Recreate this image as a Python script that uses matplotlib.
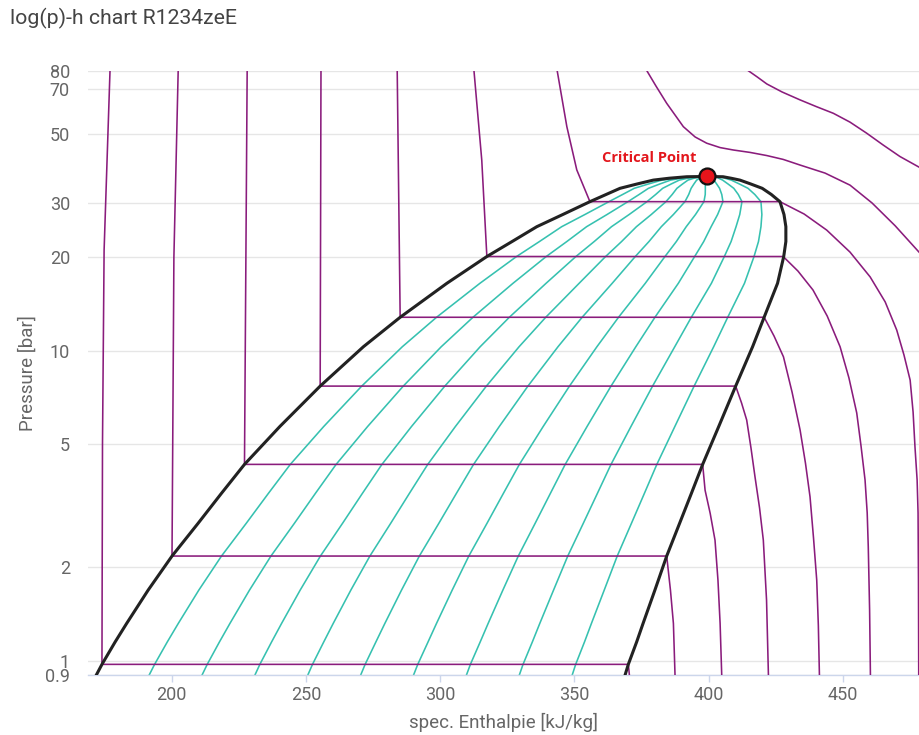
import matplotlib
matplotlib.use('Agg')
import matplotlib.pyplot as plt
from matplotlib.ticker import FixedLocator, NullLocator

# saturation dome (pressure in bar, enthalpy in kJ/kg)
sat_p = [0.9, 0.974, 1.15, 1.32, 1.69, 2.177, 2.775, 3.467, 4.30, 5.7, 7.69, 10.3,
         12.82, 16.5, 20.13, 22.5, 25.12, 27.5, 30.25, 31.9, 33.4, 34.5, 35.5, 36.0, 36.4]
sat_h_liq = [171.9, 174.0, 178.9, 183.2, 191.2, 200.1, 209.8, 218.5, 227.1, 240.3, 255.3, 271.4,
             285.1, 302.5, 317.4, 326.8, 336.0, 345.7, 355.8, 361.8, 367.0, 373.4, 379.4, 385.3, 391.9]
sat_h_vap = [368.9, 370.1, 373.2, 375.6, 380.0, 384.4, 389.2, 393.6, 397.8, 403.8, 410.1, 416.4,
             420.7, 425.7, 428.0, 428.8, 428.8, 428.1, 426.6, 423.4, 420.0, 415.7, 411.7, 408.4, 405.4]
crit_h = 399.6
crit_p = 36.47

# vapour quality lines
qualities = [0.1, 0.2, 0.3, 0.4, 0.5, 0.6, 0.7, 0.8, 0.9]

# isotherms (-20 ... 140 degC)
iso_m20_h = [177.0, 174.8, 174.2, 174.0, 370.1, 370.5]
iso_m20_p = [80, 21.1, 5.0, 0.974, 0.974, 0.9]
iso_0_h = [202.4, 200.8, 200.1, 384.4, 385.8, 386.9, 387.5]
iso_0_p = [80, 20, 2.177, 2.177, 1.69, 1.32, 0.9]
iso_20_h = [228.1, 227.1, 397.8, 398.7, 400.6, 402.4, 403.5, 404.3, 404.9]
iso_20_p = [80, 4.30, 4.30, 3.55, 2.99, 2.45, 1.82, 1.32, 0.9]
iso_40_h = [255.6, 255.3, 410.1, 412.3, 414.2, 415.8, 417.3, 419.0, 420.4, 421.6, 422.3]
iso_40_p = [80, 7.69, 7.69, 6.78, 5.98, 4.86, 3.92, 3.11, 2.45, 1.57, 0.9]
iso_60_h = [284.0, 285.1, 420.7, 424.4, 427.9, 431.1, 434.1, 436.1, 437.8, 439.1, 440.3, 440.9, 441.3]
iso_60_p = [80, 12.82, 12.82, 11.15, 9.56, 7.36, 5.55, 4.34, 3.38, 2.49, 1.82, 1.30, 0.9]
iso_80_h = [312.6, 315.5, 317.4, 427.8, 433.3, 438.9, 444.2, 449.0, 452.3, 455.2, 456.8, 458.3,
            459.1, 459.5, 460.0, 460.3]
iso_80_p = [80, 41.2, 20.13, 20.13, 18.07, 15.7, 12.94, 10.3, 8.17, 6.30, 4.93, 3.83,
            3.00, 2.33, 1.457, 0.9]
iso_100_h = [343.6, 347.2, 350.9, 355.8, 426.6, 435.6, 444.0, 452.7, 460.2, 465.8, 470.1, 472.8,
             475.1, 476.2, 476.9, 477.7, 478.05, 478.2, 478.3]
iso_100_p = [80, 52.8, 38.3, 30.25, 30.25, 27.6, 24.5, 20.8, 17.3, 14.37, 11.66, 9.69,
             8.04, 6.34, 4.90, 3.83, 3.0, 1.82, 0.9]
iso_120_h = [377.0, 380.4, 384.4, 390.6, 395.0, 399.3, 404.3, 409.2, 415.5, 421.7, 427.8, 434.1,
             443.4, 452.7, 460.9, 469.5, 478.4]
iso_120_p = [80, 71.4, 62.8, 52.8, 48.9, 46.7, 45.2, 44.4, 43.6, 42.6, 41.4, 39.7,
             37.4, 34.2, 29.96, 25.3, 20.8]
iso_140_h = [414.8, 418.1, 421.7, 427.4, 434.1, 440.1, 446.5, 452.7, 458.9, 465.0, 471.3, 478.4]
iso_140_p = [80, 76.4, 72.5, 68.3, 64.4, 61.3, 58.3, 54.6, 50.3, 46.1, 42.3, 39.1]

y_ticks = [0.9, 1, 2, 5, 10, 20, 30, 50, 70, 80]
y_labels = ['0.9', '1', '2', '5', '10', '20', '30', '50', '70', '80']
x_ticks = [200, 250, 300, 350, 400, 450]

purple = '#8a1c7c'
teal = '#36c1b0'

plt.rcParams['font.family'] = ['Roboto', 'DejaVu Sans']

fig = plt.figure(figsize=(9.19, 7.35), dpi=100)
ax = fig.add_axes([88 / 919, 60 / 735, 831 / 919, 604.3 / 735])

# quality lines inside the dome
dome_p = sat_p + [crit_p]
for q in qualities:
    hq = [hl + q * (hv - hl) for hl, hv in zip(sat_h_liq, sat_h_vap)] + [crit_h]
    ax.plot(hq, dome_p, color=teal, lw=1.15, zorder=2)

# isotherms
isotherms = [(iso_m20_h, iso_m20_p), (iso_0_h, iso_0_p), (iso_20_h, iso_20_p),
             (iso_40_h, iso_40_p), (iso_60_h, iso_60_p), (iso_80_h, iso_80_p),
             (iso_100_h, iso_100_p), (iso_120_h, iso_120_p), (iso_140_h, iso_140_p)]
for h, p in isotherms:
    ax.plot(h, p, color=purple, lw=1.15, zorder=3)

# saturation dome
ax.plot(sat_h_liq + [crit_h] + sat_h_vap[::-1], sat_p + [crit_p] + sat_p[::-1],
        color='#222222', lw=2.2, zorder=4, solid_joinstyle='round')

# critical point
ax.plot([crit_h], [crit_p], 'o', ms=11.5, mfc='#e5141b', mec='#111111', mew=1.6, zorder=6)
ax.annotate('Critical Point', (crit_h, crit_p), xytext=(-8, 13), textcoords='offset points',
            ha='right', va='center', color='#e3161c', fontsize=10.5, fontweight='bold',
            family=['Open Sans', 'DejaVu Sans'])

ax.set_yscale('log')
ax.set_ylim(0.9, 80)
ax.set_xlim(168.8, 478.4)
ax.yaxis.set_major_locator(FixedLocator(y_ticks))
ax.yaxis.set_minor_locator(NullLocator())
ax.set_yticklabels(y_labels)
ax.set_xticks(x_ticks)
ax.set_xticklabels([str(v) for v in x_ticks])

ax.grid(axis='y', color='#e6e6e6', lw=1.0, zorder=0)
ax.set_axisbelow(True)
for side in ['top', 'right', 'left']:
    ax.spines[side].set_visible(False)
ax.spines['bottom'].set_color('#ccd6eb')
ax.spines['bottom'].set_linewidth(1.0)
ax.tick_params(axis='y', length=0, pad=13, labelsize=13, labelcolor='#666666')
ax.tick_params(axis='x', length=5, width=1, color='#ccd6eb', pad=3, labelsize=13,
               labelcolor='#666666')

ax.set_xlabel('spec. Enthalpie [kJ/kg]', fontsize=13.5, color='#666666', labelpad=6)
ax.set_ylabel('Pressure [bar]', fontsize=13.5, color='#666666', labelpad=6)
fig.text(10 / 919, 1 - 18 / 735, 'log(p)-h chart R1234zeE', fontsize=15.3, color='#444444',
         ha='left', va='center')

fig.savefig('out.png', dpi=100)
